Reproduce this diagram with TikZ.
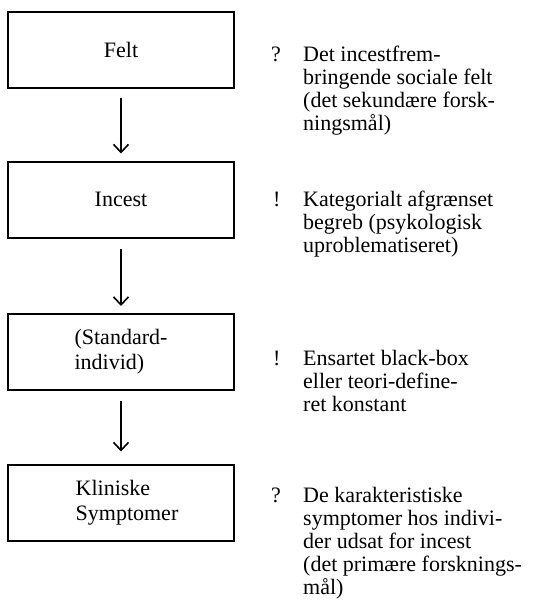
\documentclass[tikz,border=0pt]{standalone}
\usepackage{fontspec}
\setmainfont{Liberation Serif}
\usetikzlibrary{arrows.meta}
\newcommand\notelines[1]{\begin{tabular}[t]{@{}l@{}}#1\end{tabular}}
\begin{document}
\begin{tikzpicture}[x=1pt,y=-1pt,
  box/.style={draw,line width=2pt,minimum width=226pt,minimum height=76pt,inner sep=0pt,
    font=\fontsize{22}{25}\selectfont,align=left},
  note/.style={anchor=base west,inner sep=0pt,font=\fontsize{22}{23}\selectfont},
  sign/.style={anchor=base west,inner sep=0pt,font=\fontsize{22}{23}\selectfont},
  flow/.style={line width=1.6pt,-{Straight Barb[length=8pt,width=15pt,line width=1.6pt]}}]
\useasboundingbox (0,0) rectangle (538,611);
\node[box] (felt) at (121,49.5) {Felt};
\node[box] (incest) at (121,199.5) {Incest};
\node[box] (std) at (121,352) {(Standard-\\individ)};
\node[box] (klin) at (121,502.5) {\hspace*{12pt}Kliniske\\\hspace*{12pt}Symptomer};
\draw[flow] ([yshift=-9pt]felt.south) -- ([yshift=7pt]incest.north);
\draw[flow] ([yshift=-10pt]incest.south) -- ([yshift=7pt]std.north);
\draw[flow] ([yshift=-10pt]std.south) -- ([yshift=12pt]klin.north);
\node[sign] (m1) at (271,61) {?};
\node[note] (t1) at (303,61) {\notelines{Det incestfrem-\\bringende sociale felt\\(det sekundære forsk-\\ningsmål)}};
\node[sign] (m2) at (273,206) {!};
\node[note] (t2) at (303,206) {\notelines{Kategorialt afgrænset\\begreb (psykologisk\\uproblematiseret)}};
\node[sign] (m3) at (273,365) {!};
\node[note] (t3) at (303,365) {\notelines{Ensartet black-box\\eller teori-define-\\ret konstant}};
\node[sign] (m4) at (271,502) {?};
\node[note] (t4) at (303,502) {\notelines{De karakteristiske\\symptomer hos indivi-\\der udsat for incest\\(det primære forsknings-\\mål)}};
\end{tikzpicture}
\end{document}
